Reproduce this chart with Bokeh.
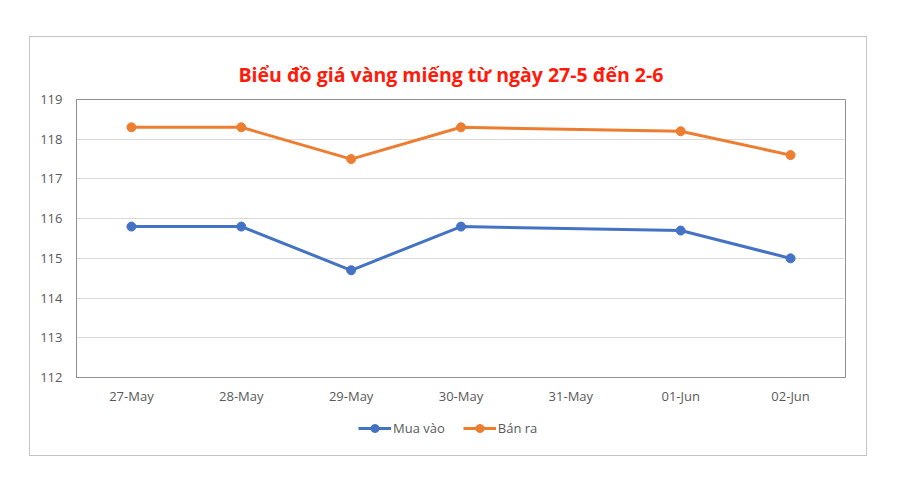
from bokeh.plotting import figure
from bokeh.layouts import column
from bokeh.models import FactorRange, Range1d, FixedTicker, ColumnDataSource, Legend, LegendItem
from bokeh.embed import file_html
from bokeh.resources import INLINE

title_text = "Biểu đồ giá vàng miếng từ ngày 27-5 đến 2-6"
dates = ["27-May", "28-May", "29-May", "30-May", "31-May", "01-Jun", "02-Jun"]
mua_vao = [115.8, 115.8, 114.7, 115.8, None, 115.7, 115.0]
ban_ra = [118.3, 118.3, 117.5, 118.3, None, 118.2, 117.6]
y_ticks = [112, 113, 114, 115, 116, 117, 118, 119]
series_names = ["Mua vào", "Bán ra"]
colors = ["#4472C4", "#ED7D31"]

FONT = "Open Sans"
TXT = "#595959"

p = figure(width=836, height=373, x_range=FactorRange(*dates),
           y_range=Range1d(y_ticks[0], y_ticks[-1]),
           output_backend="svg", toolbar_location=None,
           min_border_left=46, min_border_right=21, min_border_top=62, min_border_bottom=33)

p.title.text = title_text
p.title.text_color = "#FF1A0A"
p.title.text_font = "Open Sans"
p.title.text_font_style = "bold"
p.title.text_font_size = "19.5px"
p.title.align = "left"
p.title.offset = 162
p.title.standoff = 23

p.outline_line_color = "#8f8f8f"
p.outline_line_width = 1

p.yaxis.ticker = FixedTicker(ticks=y_ticks)
for ax in (p.xaxis[0], p.yaxis[0]):
    ax.major_tick_line_color = None
    ax.minor_tick_line_color = None
    ax.axis_line_color = "#8f8f8f"
    ax.major_label_text_font = FONT
    ax.major_label_text_font_size = "13px"
    ax.major_label_text_color = TXT
p.yaxis.major_label_standoff = 8
p.xaxis.major_label_standoff = 3

p.xgrid.grid_line_color = None
p.ygrid.grid_line_color = "#d9d9d9"
p.ygrid.grid_line_width = 1

# legend strip below the chart (same data, plotted outside its visible range)
p2 = figure(width=836, height=45, x_range=p.x_range, y_range=Range1d(0, 1),
            output_backend="svg", toolbar_location=None, min_border=0)
p2.axis.visible = False
p2.grid.visible = False
p2.outline_line_color = None

items = []
for name, vals, c in zip(series_names, [mua_vao, ban_ra], colors):
    xs = [d for d, v in zip(dates, vals) if v is not None]
    ys = [v for v in vals if v is not None]
    src = ColumnDataSource(dict(x=xs, y=ys))
    p.line("x", "y", source=src, line_color=c, line_width=3)
    p.scatter("x", "y", source=src, size=9, fill_color=c, line_color=c)
    l1 = p2.line("x", "y", source=src, line_color=c, line_width=3)
    l2 = p2.scatter("x", "y", source=src, size=9, fill_color=c, line_color=c)
    items.append(LegendItem(label=name, renderers=[l1, l2]))

legend = Legend(items=items, orientation="horizontal", location=(282, 17),
                label_text_font=FONT, label_text_font_size="13px", label_text_color=TXT,
                glyph_width=33, label_standoff=2, spacing=18, border_line_color=None,
                background_fill_alpha=0, padding=4, margin=0)
p2.add_layout(legend)

layout = column(p, p2, spacing=0)
layout.margin = (37, 0, 0, 30)
layout.styles = {"outline": "1px solid #c4c4c4"}

open("out.html", "w").write(file_html(layout, INLINE))
